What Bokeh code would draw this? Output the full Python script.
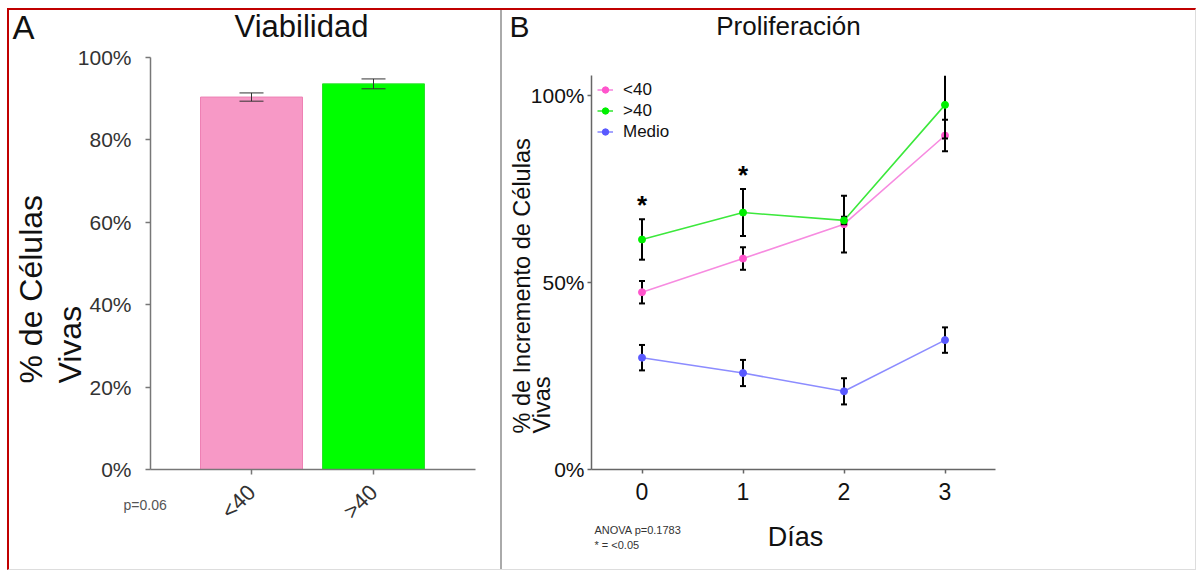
import math
from bokeh.plotting import figure
from bokeh.layouts import row
from bokeh.models import (Range1d, NumeralTickFormatter, FixedTicker,
                          Label, Legend, LegendItem, ColumnDataSource)
from bokeh.embed import file_html
from bokeh.resources import INLINE

# ---------------- Panel A: Viabilidad ----------------
groups = ["<40", ">40"]
viability = [0.904, 0.936]
viability_err = [0.010, 0.012]
bar_colors = ["#F799C6", "#00FF00"]
bar_edges = ["#EE80B4", "#2BE02B"]

# ---------------- Panel B: Proliferación ----------------
days = [0, 1, 2, 3]
series_names = ["<40", ">40", "Medio"]
prolif_lt40 = [0.474, 0.564, 0.656, 0.893]
prolif_lt40_err = [0.030, 0.030, 0.076, 0.042]
prolif_gt40 = [0.615, 0.687, 0.666, 0.975]
prolif_gt40_err = [0.054, 0.063, 0.010, 0.090]
prolif_medio = [0.299, 0.258, 0.209, 0.346]
prolif_medio_err = [0.034, 0.035, 0.035, 0.034]
line_colors = ["#F78BE0", "#3CE83C", "#8C8CFF"]
dot_colors = ["#FF55CC", "#00F000", "#5A5AFF"]
sig_days = [0, 1]          # days marked with *
Y_AXIS_TOP = 1.053         # upper end of the proliferation axis

FONT = "Liberation Sans"
INK = "#111111"


def add_label(p, x, y, text, size, align="left", baseline="middle", angle=0.0, color=INK):
    p.add_layout(Label(x=x, y=y, text=text, text_font=FONT, text_font_size=size,
                       text_align=align, text_baseline=baseline, angle=angle,
                       text_color=color))


def style_axes(p, color, tick_out, font_color):
    for ax in (p.xaxis[0], p.yaxis[0]):
        ax.axis_line_color = color
        ax.axis_line_width = 1.5
        ax.major_tick_line_color = color
        ax.major_tick_line_width = 1.5
        ax.major_tick_in = 0
        ax.major_tick_out = tick_out
        ax.minor_tick_line_color = None
        ax.major_label_text_font = FONT
        ax.major_label_text_color = font_color


# ======================= Panel A =======================
# canvas covers page x 9..500, y 10..569 ; group i sits at page x 251 + 122*i
def ax_(px):
    return (px - 251) / 122.0

def ay_(py):
    return (469 - py) / 412.0

gx = list(range(len(groups)))
pa = figure(width=491, height=559, x_range=Range1d(ax_(9), ax_(500)),
            y_range=Range1d(ay_(569), ay_(10)), output_backend="svg", toolbar_location=None,
            min_border=0)
pa.title.text = ""
pa.outline_line_color = None
pa.grid.grid_line_color = None

src_a = ColumnDataSource(dict(x=gx, v=viability,
                              lo=[v - e for v, e in zip(viability, viability_err)],
                              hi=[v + e for v, e in zip(viability, viability_err)],
                              fc=bar_colors, lc=bar_edges))
pa.vbar(x="x", top="v", width=0.836, source=src_a, fill_color="fc", line_color="lc", line_width=1)
pa.segment(x0="x", y0="lo", x1="x", y1="hi", source=src_a, line_color="#333333", line_width=1)
pa.scatter(x="x", y="lo", source=src_a, marker="dash", size=24, line_color="#333333", line_width=1)
pa.scatter(x="x", y="hi", source=src_a, marker="dash", size=24, line_color="#333333", line_width=1)

pa.xaxis.ticker = FixedTicker(ticks=gx)
pa.xaxis.major_label_overrides = {i: g for i, g in zip(gx, groups)}
pa.xaxis.fixed_location = 0
pa.xaxis.bounds = (ax_(150), ax_(475))
pa.yaxis.ticker = FixedTicker(ticks=[0, 0.2, 0.4, 0.6, 0.8, 1.0])
pa.yaxis.formatter = NumeralTickFormatter(format="0%")
pa.yaxis.fixed_location = ax_(150)
pa.yaxis.bounds = (0, 1)
style_axes(pa, "#777777", 5, "#333333")
pa.yaxis.major_label_text_font_size = "21px"
pa.yaxis.major_label_standoff = 14
pa.xaxis.major_label_text_font_size = "22px"
pa.xaxis.major_label_orientation = math.pi / 4
pa.xaxis.major_label_standoff = 14

add_label(pa, ax_(12), ay_(27), "A", "33px")
add_label(pa, ax_(301), ay_(26), "Viabilidad", "31px", align="center")
add_label(pa, ax_(30.5), ay_(383), "% de Células", "32px", angle=math.pi / 2)
add_label(pa, ax_(69.5), ay_(383), "Vivas", "32px", angle=math.pi / 2)
add_label(pa, ax_(123), ay_(504), "p=0.06", "14px", color="#555555")

# ======================= Panel B =======================
# canvas covers page x 502..1197, y 10..569 ; day d sits at page x 591 + 101*(d+0.5)
def bx_(px):
    return (px - 591) / 101.0 - 0.5

def by_(py):
    return (469 - py) / 374.0

pb = figure(width=695, height=559, x_range=Range1d(bx_(502), bx_(1197)),
            y_range=Range1d(by_(569), by_(10)), output_backend="svg", toolbar_location=None,
            min_border=0, styles={"border-left": "2px solid #AAAAAA"})
pb.title.text = ""
pb.outline_line_color = None
pb.grid.grid_line_color = None

items = []
for name, m, e, lc, dc in zip(series_names,
                              [prolif_lt40, prolif_gt40, prolif_medio],
                              [prolif_lt40_err, prolif_gt40_err, prolif_medio_err],
                              line_colors, dot_colors):
    hi = [a + b for a, b in zip(m, e)]
    lo = [a - b for a, b in zip(m, e)]
    s = ColumnDataSource(dict(d=days, m=m, lo=lo, hi=[min(h, Y_AXIS_TOP) for h in hi]))
    caps = ColumnDataSource(dict(
        d=list(days) + [d for d, h in zip(days, hi) if h <= Y_AXIS_TOP],
        y=lo + [h for h in hi if h <= Y_AXIS_TOP]))
    lr = pb.line(x="d", y="m", source=s, line_color=lc, line_width=1.6)
    pb.segment(x0="d", y0="lo", x1="d", y1="hi", source=s, line_color="black", line_width=2)
    pb.scatter(x="d", y="y", source=caps, marker="dash", size=6, line_color="black", line_width=2)
    sr = pb.scatter(x="d", y="m", source=s, size=7, fill_color=dc, line_color=dc)
    items.append(LegendItem(label=name, renderers=[lr, sr]))

# significance asterisks above the >40 error bars
sig_y = [prolif_gt40[d] + prolif_gt40_err[d] + 0.038 for d in sig_days]
pb.text(x=sig_days, y=sig_y, text=["*"] * len(sig_days), text_align="center",
        text_baseline="alphabetic", text_font_size="26px", text_font_style="bold",
        text_color="black")

legend = Legend(items=items, location=(95, 427), margin=0, padding=6, spacing=0,
                label_standoff=10, glyph_width=16, glyph_height=21, label_height=21,
                label_text_font=FONT, label_text_font_size="17px",
                label_text_color=INK, border_line_color=None, background_fill_alpha=0)
pb.add_layout(legend)

pb.xaxis.ticker = FixedTicker(ticks=days)
pb.xaxis.fixed_location = 0
pb.xaxis.bounds = (-0.5, 3.5)
pb.yaxis.ticker = FixedTicker(ticks=[0, 0.5, 1.0])
pb.yaxis.formatter = NumeralTickFormatter(format="0%")
pb.yaxis.fixed_location = -0.5
pb.yaxis.bounds = (0, Y_AXIS_TOP)
style_axes(pb, "#666666", 4, INK)
pb.yaxis.major_label_text_font_size = "21px"
pb.yaxis.major_label_standoff = 3
pb.xaxis.major_label_text_font_size = "23px"
pb.xaxis.major_label_standoff = 9

add_label(pb, bx_(509), by_(26), "B", "30px")
add_label(pb, bx_(788), by_(25), "Proliferación", "26px", align="center")
add_label(pb, bx_(521), by_(433), "% de Incremento de Células", "23.5px", angle=math.pi / 2)
add_label(pb, bx_(541.5), by_(433), "Vivas", "23.5px", angle=math.pi / 2)
add_label(pb, bx_(795), by_(536), "Días", "27px", align="center")
add_label(pb, bx_(594), by_(529), "ANOVA p=0.1783", "11px", color="#333333")
add_label(pb, bx_(594), by_(544), "* = <0.05", "11px", color="#333333")

layout = row(pa, pb, styles={"margin-left": "7px", "margin-top": "8px",
                             "border-top": "2px solid #C00000",
                             "border-left": "2px solid #C00000",
                             "border-right": "1px solid #DDDDDD",
                             "border-bottom": "1px solid #DDDDDD"})

open("out.html", "w").write(file_html(layout, INLINE))
